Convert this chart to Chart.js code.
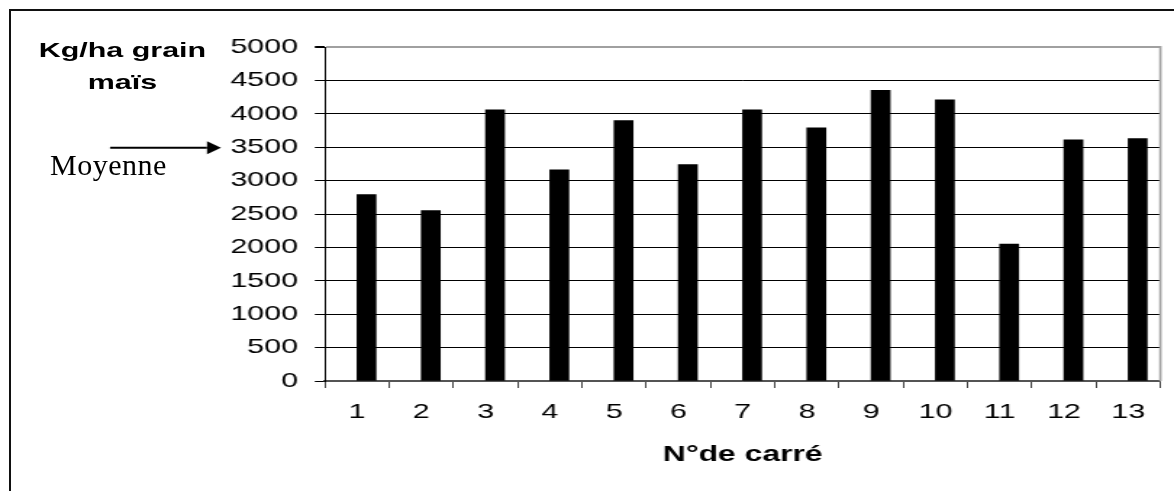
<!DOCTYPE html>
<html>
<head>
<meta charset="utf-8">
<script src="https://cdn.jsdelivr.net/npm/chart.js@4/dist/chart.umd.min.js"></script>
<style>
  html, body { margin:0; padding:0; background:#fff; }
  body { width:1174px; height:491px; position:relative; overflow:hidden; }
  #frame { position:absolute; left:9px; top:9px; width:1200px; height:600px; border:2px solid #111; box-sizing:border-box; }
  /* the original picture is stretched sideways, so the chart is drawn narrow and widened */
  #wrap { position:absolute; left:0; top:0; width:810px; height:491px; transform:scaleX(1.44938); transform-origin:0 0; }
  #ytitle { position:absolute; left:0; top:34px; width:169px; text-align:center;
            font:bold 21px 'Liberation Sans', Arial, sans-serif; line-height:32px; color:#000; }
  #moy { position:absolute; left:50px; top:148px; font:30px 'Liberation Serif', 'Times New Roman', serif;
         letter-spacing:0.5px; color:#000; }
</style>
</head>
<body>
<div id="frame"></div>
<div id="wrap">
  <canvas id="c"></canvas>
  <div id="ytitle">Kg/ha grain<br>maïs</div>
</div>
<div id="moy">Moyenne</div>
<script>
// ── Données ───────────────────────────────────────────────
const carres    = ['1','2','3','4','5','6','7','8','9','10','11','12','13'];
const rendement = [2790, 2550, 4060, 3160, 3900, 3240, 4060, 3790, 4350, 4210, 2050, 3610, 3630];
const yTicks    = [0, 500, 1000, 1500, 2000, 2500, 3000, 3500, 4000, 4500, 5000];

const SX = 1174 / 810;              // horizontal stretch of the wrapper
const moyenne = rendement.reduce((a, v) => a + v, 0) / rendement.length;
const FONT = "'Liberation Sans', Arial, sans-serif";

// arrow "Moyenne" + right border of the plot area
const decor = {
  id: 'decor',
  afterDraw(chart) {
    const { ctx, chartArea, scales } = chart;
    ctx.save();
    ctx.strokeStyle = '#a0a0a0';
    ctx.lineWidth = 1.7;
    ctx.beginPath();
    ctx.moveTo(chartArea.right, chartArea.top - 1);
    ctx.lineTo(chartArea.right, chartArea.bottom);
    ctx.stroke();

    const y  = scales.y.getPixelForValue(moyenne);
    const x1 = 110 / SX, x2 = 221 / SX, head = 14 / SX;
    ctx.strokeStyle = '#000'; ctx.fillStyle = '#000'; ctx.lineWidth = 2;
    ctx.beginPath(); ctx.moveTo(x1, y); ctx.lineTo(x2 - head, y); ctx.stroke();
    ctx.beginPath();
    ctx.moveTo(x2, y); ctx.lineTo(x2 - head, y - 6.5); ctx.lineTo(x2 - head, y + 6.5);
    ctx.closePath(); ctx.fill();
    ctx.restore();
  }
};

new Chart(document.getElementById('c').getContext('2d'), {
  type: 'bar',
  data: {
    labels: carres,
    datasets: [
      // empty spacer: pushes the bars a little right of the category centre, as in the original
      { label: '', data: carres.map(() => null) },
      { label: 'Kg/ha grain maïs', data: rendement, backgroundColor: '#000', borderWidth: 0,
        barThickness: 13 },
    ]
  },
  options: {
    responsive: true, maintainAspectRatio: false, animation: false,
    layout: { padding: { left: 0, top: 47, right: 9.4, bottom: 0 } },
    categoryPercentage: 0.577,
    barPercentage: 1,
    plugins: { legend: { display: false }, tooltip: { enabled: false } },
    scales: {
      x: {
        grid: { offset: true, drawOnChartArea: false, drawTicks: true, tickLength: 7, color: '#444', lineWidth: 1 },
        border: { color: '#555', width: 1.5 },
        ticks: { color: '#000', padding: 12, font: { family: FONT, size: 21 } },
        title: { display: true, text: 'N°de carré', color: '#000',
                 font: { family: FONT, size: 22, weight: 'bold' }, padding: { top: 0, bottom: 23 } },
        afterFit: s => { s.height = 110; },
      },
      y: {
        min: 0, max: 5000,
        afterBuildTicks: s => { s.ticks = yTicks.map(v => ({ value: v })); },
        grid: {
          color: c => c.tick.value === 5000 ? '#a0a0a0' : c.tick.value === 0 ? '#555' : '#000',
          lineWidth: c => c.tick.value === 5000 ? 2 : 1,
          tickColor: '#000', tickLength: 7,
        },
        border: { color: '#000', width: 1 },
        ticks: { color: '#000', padding: 11.6, font: { family: FONT, size: 21 }, callback: v => String(v) },
        afterFit: s => { s.width = 224.2; },
      }
    }
  },
  plugins: [decor]
});
</script>
</body>
</html>
